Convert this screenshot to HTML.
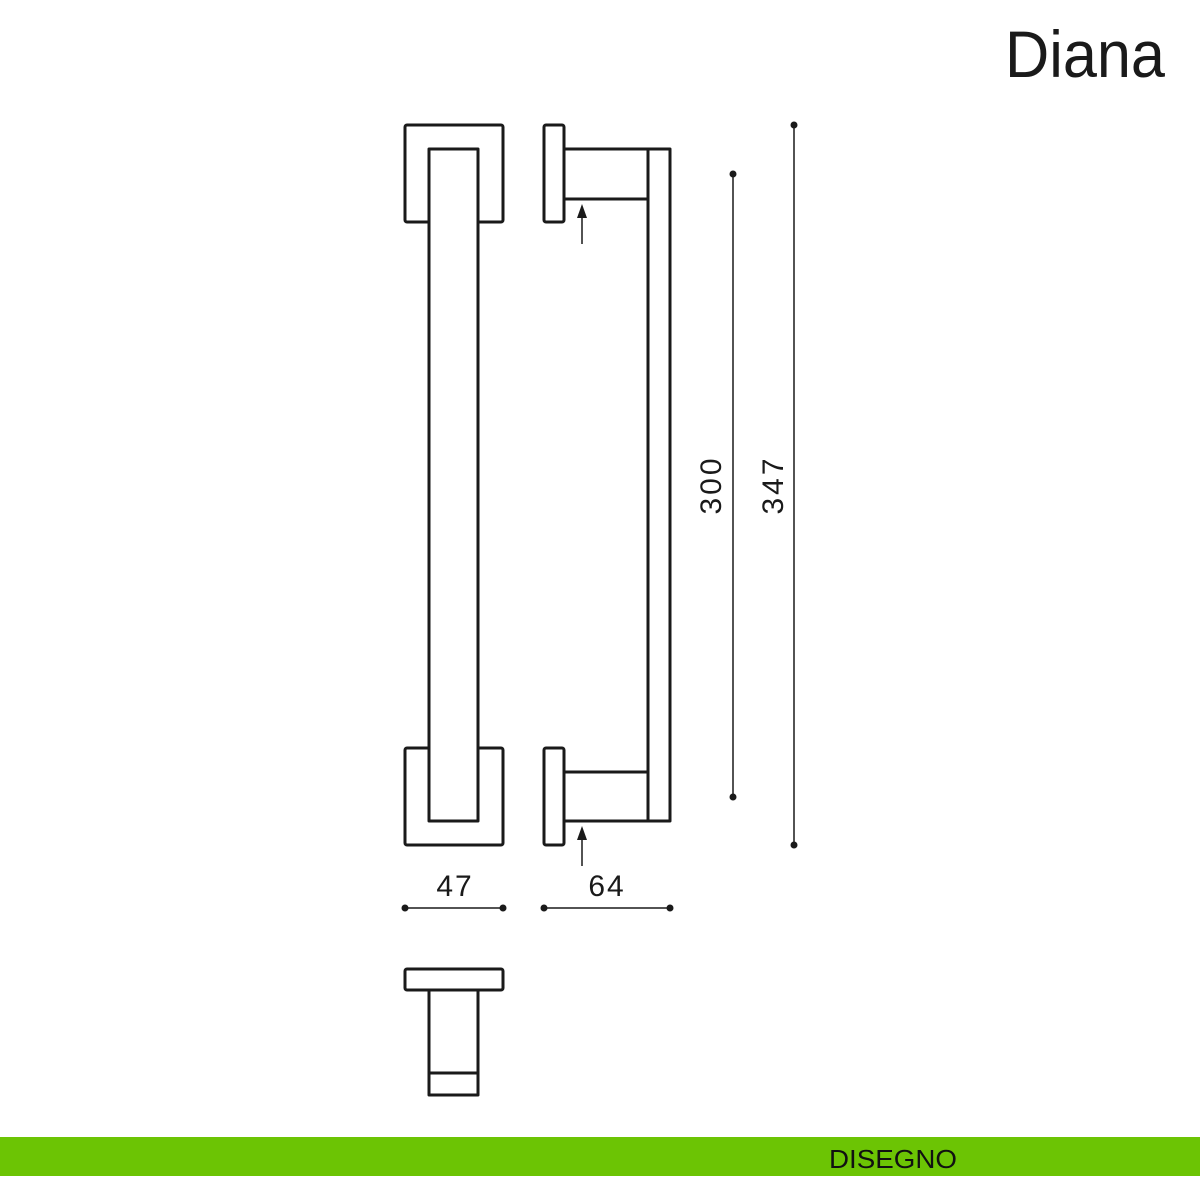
<!DOCTYPE html>
<html><head><meta charset="utf-8"><style>html,body{margin:0;padding:0;background:#fff;}svg{display:block}</style></head>
<body>
<svg width="1200" height="1200" viewBox="0 0 1200 1200" xmlns="http://www.w3.org/2000/svg">
<rect width="1200" height="1200" fill="#fff"/>
<text x="1005" y="77" font-family="Liberation Sans, sans-serif" font-size="66" fill="#1a1a1a" textLength="160" lengthAdjust="spacingAndGlyphs">Diana</text>
<g fill="none" stroke="#1a1a1a" stroke-width="3" stroke-linejoin="round">
<!-- front view -->
<rect x="405" y="125" width="98" height="97" rx="2"/>
<rect x="405" y="748" width="98" height="97" rx="2"/>
<rect x="429" y="149" width="49" height="672" fill="#fff"/>
<!-- side view -->
<rect x="544" y="125" width="20" height="97" rx="2"/>
<rect x="544" y="748" width="20" height="97" rx="2"/>
<path d="M564 149H648M564 199H648M564 772H648M564 821H648"/>
<rect x="648" y="149" width="22" height="672"/>
<!-- bottom view -->
<rect x="405" y="969" width="98" height="21" rx="2"/>
<path d="M429 990V1095H478V990M429 1073H478"/>
</g>
<g stroke="#1a1a1a" stroke-width="1.5" fill="none">
<path d="M582 244V212M582 866V834"/>
<path d="M733 174V797M794 125V845M405 908H503M544 908H670"/>
</g>
<g fill="#1a1a1a">
<path d="M582 204l-5 14h10z"/><path d="M582 826l-5 14h10z"/>
<circle cx="733" cy="174" r="3.5"/><circle cx="733" cy="797" r="3.5"/>
<circle cx="794" cy="125" r="3.5"/><circle cx="794" cy="845" r="3.5"/>
<circle cx="405" cy="908" r="3.5"/><circle cx="503" cy="908" r="3.5"/>
<circle cx="544" cy="908" r="3.5"/><circle cx="670" cy="908" r="3.5"/>
</g>
<g font-family="Liberation Sans, sans-serif" font-size="30" fill="#1a1a1a" text-anchor="middle">
<text x="455" y="896" letter-spacing="2">47</text>
<text x="607" y="896" letter-spacing="2">64</text>
<text transform="translate(721,485) rotate(-90)" letter-spacing="3">300</text>
<text transform="translate(783,485) rotate(-90)" letter-spacing="3">347</text>
</g>
<rect x="0" y="1137" width="1200" height="39" fill="#6cc404"/>
<text x="829" y="1168" font-family="Liberation Sans, sans-serif" font-size="26" fill="#111" textLength="128" lengthAdjust="spacingAndGlyphs">DISEGNO</text>
</svg>
</body></html>
